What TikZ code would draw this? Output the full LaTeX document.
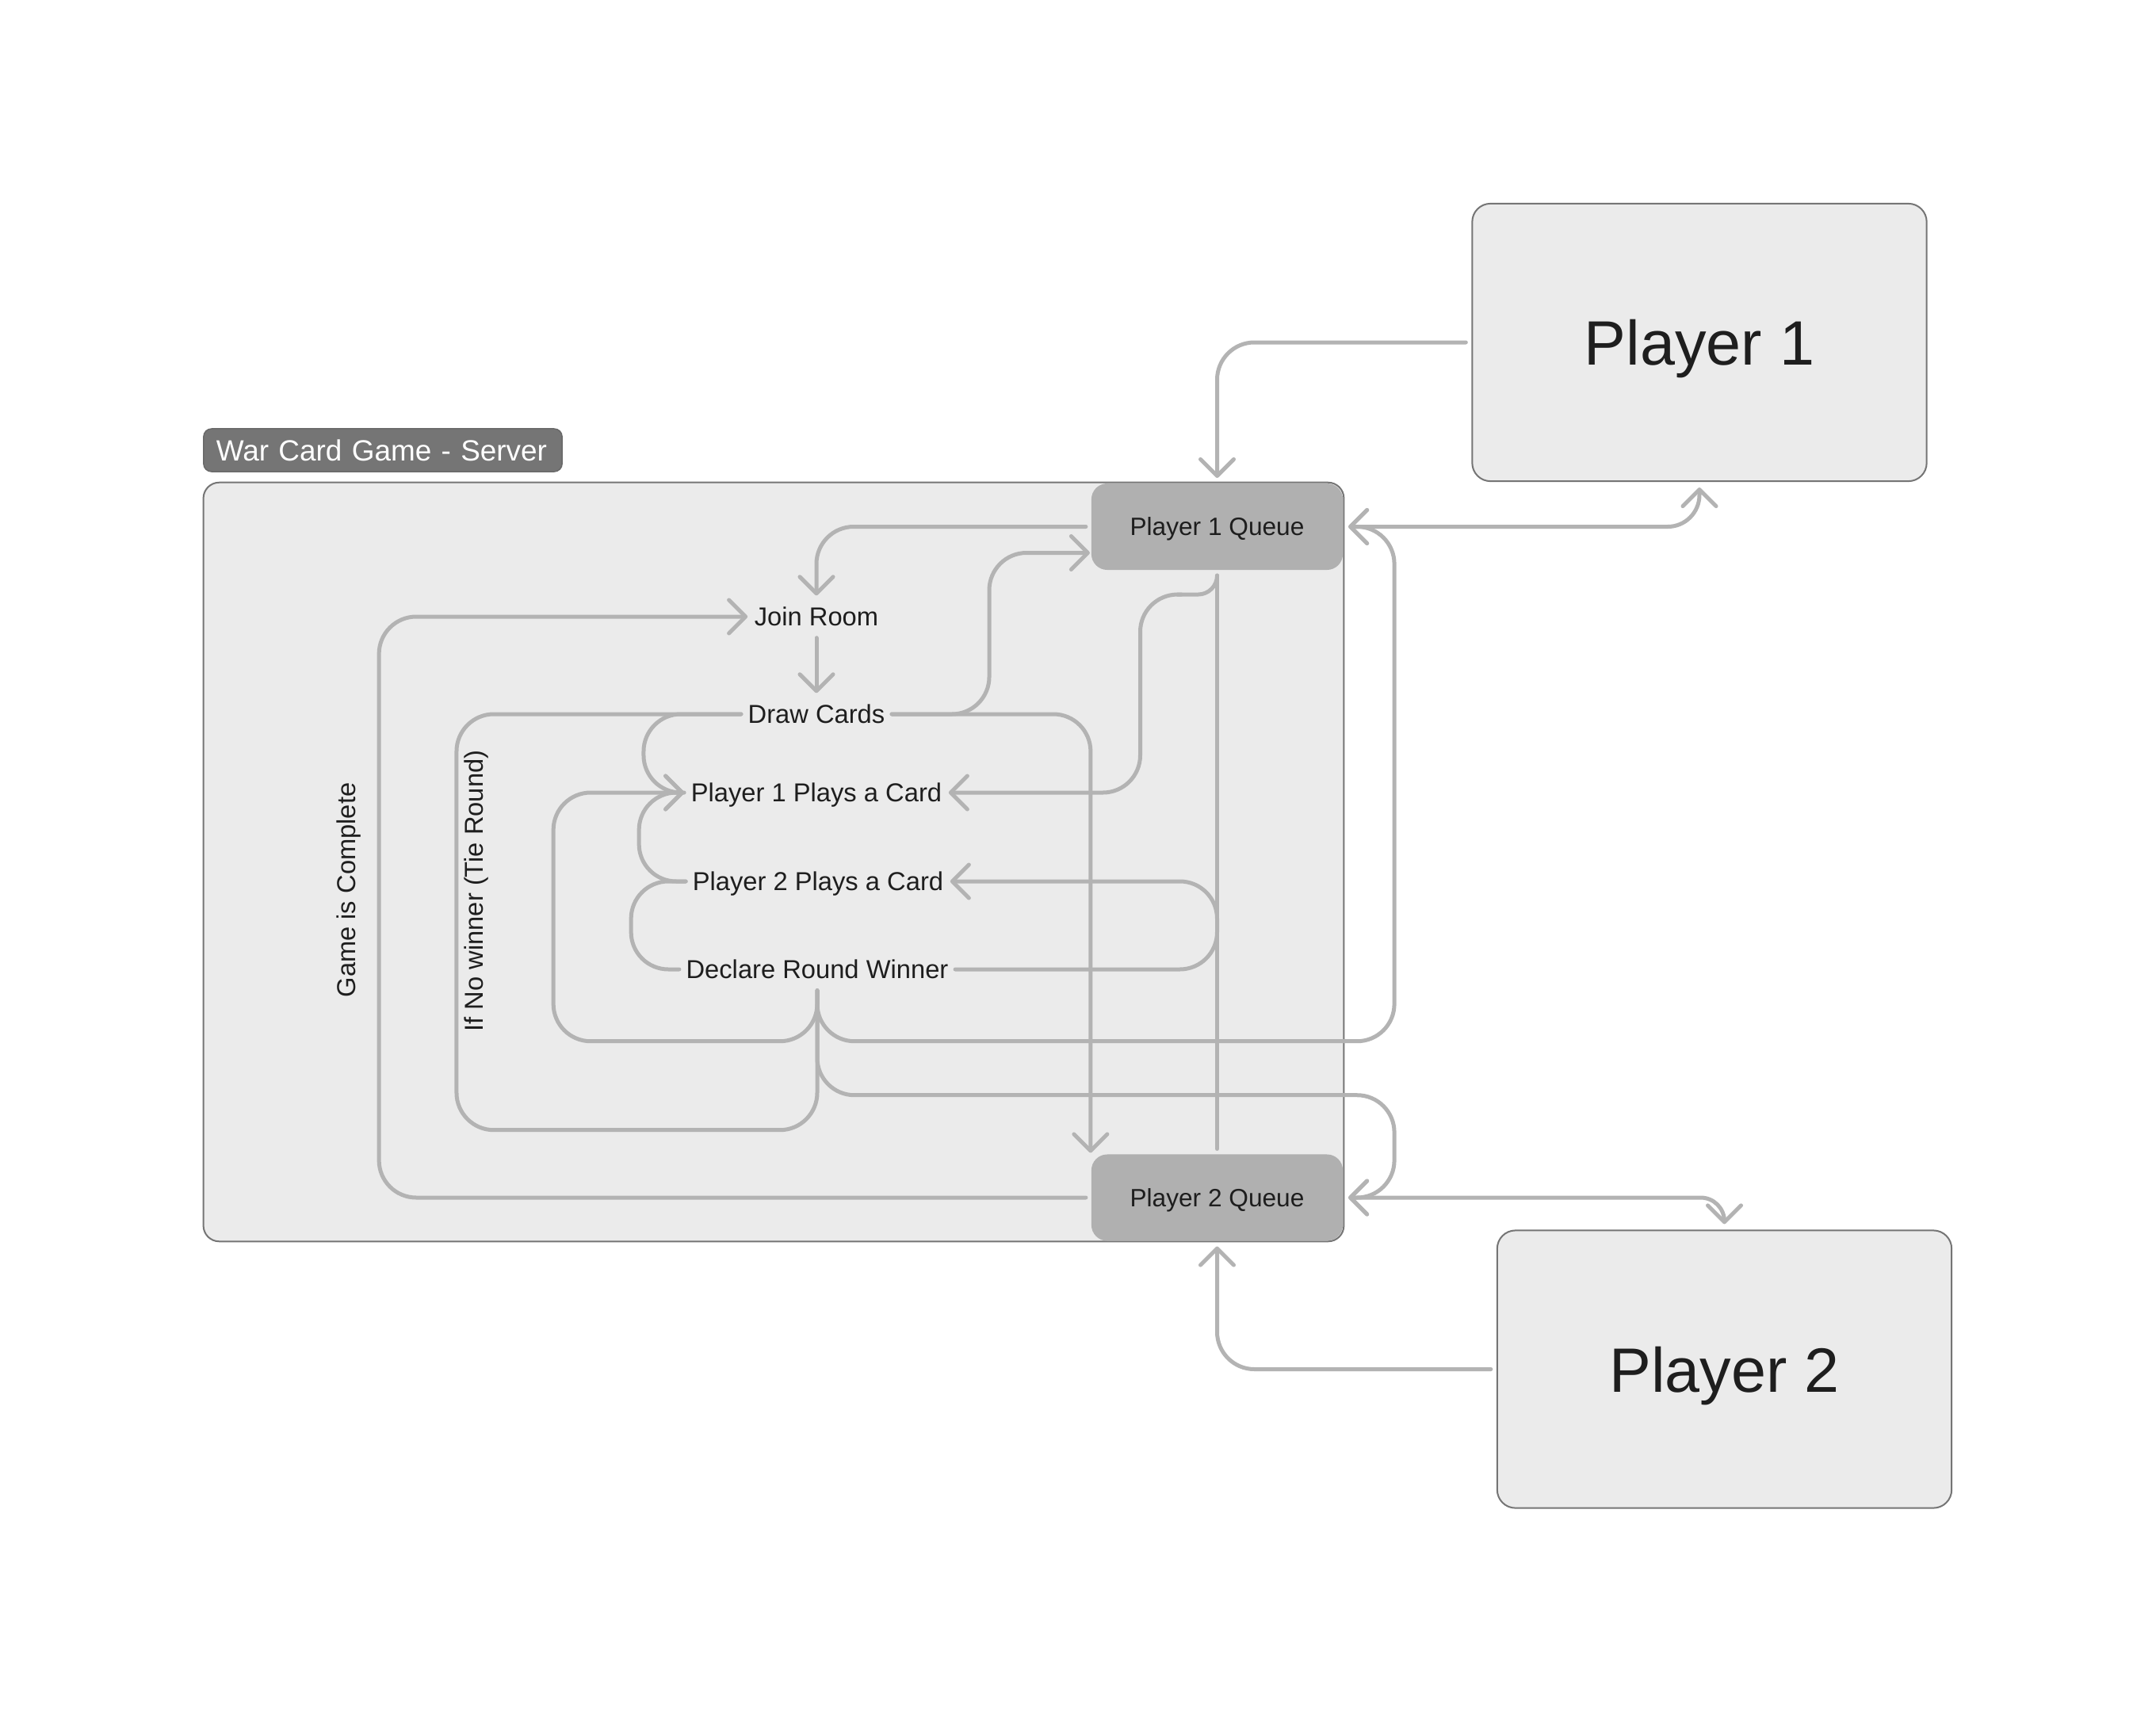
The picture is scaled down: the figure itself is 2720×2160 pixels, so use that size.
\documentclass[tikz,border=0pt]{standalone}
\usepackage{fontspec}
\setmainfont{Liberation Sans}
\usetikzlibrary{arrows.meta,calc}
\definecolor{ln}{HTML}{B3B3B3}
\definecolor{bgbox}{HTML}{EBEBEB}
\definecolor{edge}{HTML}{757575}
\definecolor{qfill}{HTML}{B0B0B0}
\definecolor{ink}{HTML}{1E1E1E}
\tikzset{
  barb/.tip={Straight Barb[length=0.21cm,width=0.42cm,round]},
  conn/.style={draw=ln,line width=0.05cm,line cap=round,line join=round,rounded corners=0.47cm},
  lbl/.style={font=\fontsize{9.3pt}{11pt}\selectfont,text=ink,inner xsep=0.08cm,inner ysep=0pt,text depth=0pt,minimum height=0.52cm},
  queue/.style={fill=qfill,rounded corners=0.2cm,minimum width=3.17cm,minimum height=1.09cm,outer sep=0.07cm,inner sep=0pt,text depth=0pt,font=\fontsize{9.0pt}{11pt}\selectfont,text=ink},
  player/.style={fill=bgbox,draw=edge,line width=0.02cm,rounded corners=0.23cm,minimum width=5.73cm,minimum height=3.5cm,outer sep=0.08cm,inner sep=0pt,text depth=0pt,font=\fontsize{22.5pt}{26pt}\selectfont,text=ink},
  server/.style={fill=bgbox,draw=edge,line width=0.02cm,rounded corners=0.2cm,minimum width=14.38cm,minimum height=9.57cm,inner sep=0pt},
  tabstyle/.style={fill=edge,draw=edge!90!black,line width=0.015cm,rounded corners=0.1cm,text=white,font=\fontsize{10.5pt}{12pt}\selectfont,text width=4.2cm,inner xsep=0.16cm,inner ysep=0pt,text depth=0pt,minimum height=0.54cm,align=left}
}
\begin{document}
\begin{tikzpicture}[x=0.01cm,y=-0.01cm]
\useasboundingbox (0,0) rectangle (2720,2160);
\fill[white] (0,0) rectangle (2720,2160);

% containers
\node[tabstyle] (tab) at (483,568) {War Card Game - Server};
\node[server] (srv) at (976,1087.5) {};
\node[queue] (q1) at (1535.5,664.5) {Player 1 Queue};
\node[queue] (q2) at (1535.5,1511) {Player 2 Queue};
\node[player] (p1) at (2144,432) {Player 1};
\node[player] (p2) at (2175.5,1727.5) {Player 2};

% steps
\node[lbl] (join) at (1030,778) {Join Room};
\node[lbl] (draw) at (1030,901) {Draw Cards};
\node[lbl] (p1p) at (1030,1000) {Player 1 Plays a Card};
\node[lbl] (p2p) at (1032,1112) {Player 2 Plays a Card};
\node[lbl] (dec) at (1031,1223) {Declare Round Winner};

\node[lbl,rotate=90] (gc) at (437,1123) {Game is Complete};
\node[lbl,rotate=90] (tie) at (598,1124) {If No winner (Tie Round)};

% connectors
\draw[conn,-barb] (p1.west) -| (q1.north);
\draw[conn,barb-barb,rounded corners=0.4cm] (q1.east) -| (p1.south);
\draw[conn,-barb] (q1.west) -| (join.north);
\draw[conn,-barb] (join.south) -- (draw.north);
\draw[conn,-barb] (draw.east) -- ++(123,0) |- ($(q1.west)+(5,33)$);
\draw[conn,-barb] (draw.east) -| ($(q2.north west)+(6,5)$);
\draw[conn,-barb] (draw.west) -- ++(-123,0) |- (p1p.west);
\draw[conn] (p1p.west) -- ++(-57,0) |- (p2p.west);
\draw[conn] (p2p.west) -- ++(-69,0) |- (dec.west);
% queue 1 -> player 1 plays (small bend, then wide bends)
\draw[conn,rounded corners=0.24cm] (q1.south) -- ++(0,24) -- ++(-50,0);
\draw[conn,-barb] ($(q1.south)+(-45,24)$) -- ++(-52,0) |- (p1p.east);
\draw[conn] (q1.south) -- (q2.north);
\draw[conn,-barb] (dec.east) -- (dec.east -| q1.south) |- (p2p.east);
\draw[conn,-barb] (dec.south) -- ++(0,64) -| ($(q1.east)+(58,0)$) -- (q1.east);
\draw[conn,-barb] (dec.south) -- ++(0,132) -| ($(q2.east)+(58,0)$) -- (q2.east);
\draw[conn,-barb] (dec.south) -- ++(0,64) -| ($(p1p.west)+(-165,0)$) -- (p1p.west);
\draw[conn] (dec.south) -- ++(0,176) -| ($(draw.west)+(-359,0)$) -- (draw.west);
\draw[conn,-barb] (q2.west) -| ($(join.west)+(-465,0)$) -- (join.west);
\draw[conn,-barb] (p2.west) -| (q2.south);
\draw[conn,barb-barb,rounded corners=0.3cm] (q2.east) -| (p2.north);
\end{tikzpicture}
\end{document}
